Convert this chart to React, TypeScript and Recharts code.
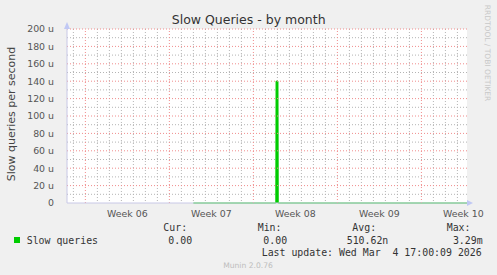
import React from 'react';
import { ComposedChart, Area, XAxis, YAxis, CartesianGrid, ReferenceLine } from 'recharts';

// x axis is in days, day 0 = start of week 06
const xDomain = [-1.53, 31.8];
const weekStarts = [0, 7, 14, 21, 28];
const weekTicks = [3.5, 10.5, 17.5, 24.5, 31.5];
const weekLabels = ['Week 06', 'Week 07', 'Week 08', 'Week 09', 'Week 10'];
const dayLines = [-1, 1, 2, 3, 4, 5, 6, 8, 9, 10, 11, 12, 13, 15, 16, 17, 18, 19, 20, 22, 23, 24, 25, 26, 27, 29, 30, 31];

// y axis in micro (u) queries per second
const yTicks = [0, 20, 40, 60, 80, 100, 120, 140, 160, 180, 200];
const yMinor = [10, 30, 50, 70, 90, 110, 130, 150, 170, 190];

// samples (no data before day 9)
const sampleDays = [9.0, 15.87, 15.89, 16.05, 16.07, 31.8];
const slowQueries = [0, 0, 140, 140, 0, 0];

const data = sampleDays.map((d, i) => ({ day: d, value: slowQueries[i] }));

const GREEN = '#00cc00';
const MAJOR = '#f08c8c';
const mono = '"DejaVu Sans Mono", monospace';
const sans = '"DejaVu Sans", sans-serif';

const App: React.FC = () => {
    return (
        <div style={{ position: 'absolute', top: 0, left: 0, width: 497, height: 275, background: '#f0f0f0', overflow: 'hidden' }}>
            <ComposedChart width={497} height={275} data={data} margin={{ top: 29, right: 30, left: 0, bottom: 52 }}>
                <CartesianGrid
                    fill="#ffffff"
                    fillOpacity={1}
                    stroke="#b4b4b4"
                    strokeDasharray="1 2"
                    horizontalValues={yMinor}
                    verticalValues={dayLines}
                />
                {yTicks.slice(1).map((v) => (
                    <ReferenceLine key={`h${v}`} y={v} stroke={MAJOR} strokeWidth={1} strokeDasharray="1 2" />
                ))}
                {weekStarts.map((v) => (
                    <ReferenceLine key={`v${v}`} x={v} stroke={MAJOR} strokeWidth={1} strokeDasharray="1 2" />
                ))}
                <XAxis
                    dataKey="day"
                    type="number"
                    domain={xDomain}
                    allowDataOverflow
                    ticks={weekTicks}
                    tickFormatter={(v: number) => weekLabels[weekTicks.indexOf(v)]}
                    height={20}
                    tickLine={false}
                    tickMargin={1}
                    interval={0}
                    axisLine={{ stroke: '#c8c8e6' }}
                    tick={{ fill: '#555', fontSize: 9.4, fontFamily: sans }}
                />
                <YAxis
                    type="number"
                    domain={[0, 200]}
                    ticks={yTicks}
                    width={67}
                    tickLine={false}
                    tickMargin={7}
                    interval={0}
                    axisLine={{ stroke: '#c8c8e6' }}
                    tickFormatter={(v: number) => (v === 0 ? '0' : `${v} u`)}
                    tick={{ fill: '#555', fontSize: 9.4, fontFamily: sans }}
                />
                <Area
                    type="linear"
                    dataKey="value"
                    stroke={GREEN}
                    strokeWidth={1}
                    fill={GREEN}
                    fillOpacity={1}
                    dot={false}
                    activeDot={false}
                    isAnimationActive={false}
                />
            </ComposedChart>

            <svg width={497} height={275} style={{ position: 'absolute', top: 0, left: 0, pointerEvents: 'none' }}>
                {/* axis arrows */}
                <polygon points="64,29 70,29 67,22" fill="#c0c8f4" />
                <polygon points="467,200 467,206 473,203" fill="#c0c8f4" />

                <text x={248.7} y={24} textAnchor="middle" fontFamily={sans} fontSize={12.5} fill="#333">
                    Slow Queries - by month
                </text>
                <text transform="translate(15,114) rotate(-90)" textAnchor="middle" fontFamily={sans} fontSize={11} fill="#444">
                    Slow queries per second
                </text>
                <text transform="translate(485,53) rotate(90)" textAnchor="middle" fontFamily={sans} fontSize={7.5} fill="#c8c8c8">
                    RRDTOOL / TOBI OETIKER
                </text>

                {/* legend */}
                <rect x={14} y={237} width={6} height={6} fill={GREEN} />
                <g fontFamily={mono} fontSize={9.9} fill="#333" style={{ whiteSpace: 'pre' }}>
                    <text x={163.3} y={230.5}>Cur:</text>
                    <text x={257.7} y={230.5}>Min:</text>
                    <text x={352.3} y={230.5}>Avg:</text>
                    <text x={446.7} y={230.5}>Max:</text>
                    <text x={26.7} y={243.5}>Slow queries</text>
                    <text x={168.3} y={243.5}>0.00</text>
                    <text x={263.3} y={243.5}>0.00</text>
                    <text x={346.7} y={243.5}>510.62n</text>
                    <text x={452.9} y={243.5}>3.29m</text>
                    <text x={261.7} y={255.5} xmlSpace="preserve">Last update: Wed Mar  4 17:00:09 2026</text>
                </g>
                <text x={248} y={268} textAnchor="middle" fontFamily={sans} fontSize={7.6} fill="#bdbdbd">
                    Munin 2.0.76
                </text>
            </svg>
        </div>
    );
};

export default App;
